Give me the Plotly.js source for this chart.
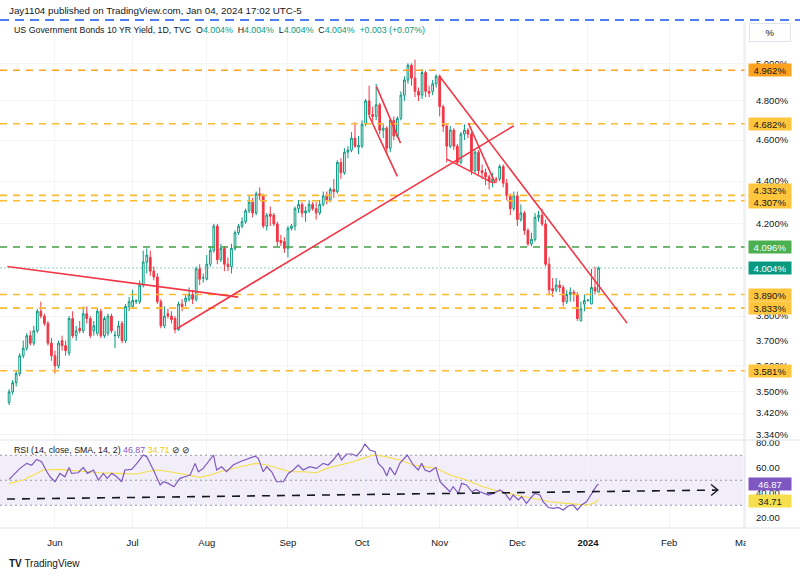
<!DOCTYPE html>
<html><head><meta charset="utf-8">
<script src="https://cdn.plot.ly/plotly-3.0.1.min.js"></script>
<style>html,body{margin:0;padding:0;background:#fff}#chart{width:800px;height:576px}</style>
</head><body><div id="chart"></div>
<script>
// ---------------- DATA ----------------
const startDate = '2023-05-15';
const skipDates = ['2023-12-25'];
const openP  = [3.46,3.50,3.535,3.57,3.64,3.67,3.72,3.69,3.74,3.82,3.80,3.77,3.69,3.64,3.60,3.70,3.68,3.65,3.79,3.72,3.75,3.74,3.81,3.79,3.74,3.73,3.82,3.72,3.73,3.80,3.72,3.72,3.77,3.70,3.84,3.84,3.86,3.86,3.93,4.03,4.05,3.99,3.965,3.86,3.76,3.81,3.80,3.79,3.745,3.85,3.86,3.87,3.89,3.87,4.00,3.96,3.955,4.02,4.08,4.19,4.04,4.09,4.02,4.01,4.09,4.16,4.19,4.21,4.26,4.30,4.25,4.34,4.33,4.19,4.245,4.24,4.20,4.125,4.12,4.09,4.18,4.19,4.27,4.29,4.25,4.26,4.29,4.27,4.25,4.29,4.33,4.31,4.36,4.35,4.49,4.44,4.54,4.55,4.61,4.565,4.57,4.68,4.80,4.73,4.72,4.78,4.65,4.66,4.56,4.70,4.62,4.71,4.83,4.91,4.99,4.92,4.85,4.83,4.95,4.85,4.85,4.89,4.93,4.77,4.67,4.57,4.65,4.57,4.49,4.63,4.65,4.63,4.45,4.54,4.45,4.44,4.42,4.40,4.41,4.41,4.47,4.39,4.33,4.27,4.33,4.22,4.25,4.17,4.11,4.13,4.23,4.24,4.20,4.02,3.915,3.91,3.93,3.92,3.86,3.89,3.90,3.89,3.78,3.85,3.865,3.85,3.92,3.90];
const highP  = [3.51,3.545,3.58,3.65,3.70,3.73,3.74,3.76,3.83,3.86,3.81,3.78,3.71,3.66,3.70,3.72,3.70,3.80,3.82,3.76,3.78,3.84,3.84,3.80,3.78,3.83,3.83,3.80,3.81,3.81,3.74,3.78,3.78,3.85,3.88,3.91,3.87,3.95,4.08,4.09,4.08,4.01,3.98,3.87,3.84,3.83,3.82,3.80,3.86,3.87,3.89,3.92,3.91,4.01,4.02,3.98,4.06,4.10,4.20,4.20,4.11,4.10,4.05,4.11,4.17,4.20,4.23,4.27,4.33,4.32,4.35,4.37,4.34,4.25,4.28,4.25,4.21,4.15,4.14,4.19,4.20,4.28,4.31,4.30,4.28,4.31,4.30,4.30,4.31,4.35,4.35,4.37,4.41,4.50,4.51,4.56,4.57,4.64,4.69,4.62,4.70,4.81,4.88,4.77,4.89,4.79,4.68,4.67,4.71,4.72,4.72,4.85,4.93,5.00,5.00,5.02,4.87,4.97,4.96,4.88,4.91,4.94,4.94,4.78,4.68,4.67,4.66,4.58,4.64,4.68,4.66,4.64,4.55,4.55,4.48,4.46,4.43,4.44,4.42,4.48,4.48,4.41,4.34,4.35,4.35,4.29,4.26,4.18,4.16,4.25,4.26,4.27,4.22,4.05,3.96,3.96,3.95,3.93,3.91,3.92,3.91,3.90,3.86,3.89,3.87,4.00,4.01,4.01];
const lowP   = [3.45,3.49,3.52,3.56,3.63,3.66,3.68,3.68,3.73,3.79,3.76,3.68,3.62,3.57,3.59,3.66,3.64,3.64,3.71,3.70,3.73,3.73,3.77,3.71,3.72,3.72,3.71,3.71,3.72,3.73,3.67,3.71,3.69,3.69,3.82,3.83,3.85,3.85,3.92,3.98,3.97,3.95,3.85,3.75,3.75,3.79,3.77,3.73,3.74,3.82,3.84,3.86,3.85,3.86,3.93,3.94,3.95,4.01,4.07,4.02,4.03,3.99,3.99,3.98,4.08,4.15,4.18,4.20,4.25,4.23,4.24,4.31,4.18,4.17,4.19,4.19,4.10,4.10,4.07,4.05,4.17,4.17,4.25,4.23,4.21,4.25,4.26,4.22,4.24,4.28,4.29,4.30,4.32,4.34,4.41,4.43,4.51,4.54,4.56,4.53,4.56,4.67,4.72,4.69,4.70,4.63,4.61,4.53,4.54,4.60,4.61,4.70,4.80,4.89,4.88,4.82,4.80,4.81,4.82,4.82,4.83,4.87,4.72,4.64,4.49,4.56,4.55,4.48,4.48,4.60,4.61,4.43,4.44,4.43,4.41,4.38,4.36,4.37,4.39,4.40,4.37,4.31,4.24,4.26,4.19,4.21,4.15,4.10,4.10,4.12,4.21,4.19,4.01,3.89,3.88,3.90,3.90,3.84,3.85,3.86,3.86,3.78,3.78,3.82,3.86,3.85,3.89,3.90];
const closeP = [3.50,3.535,3.57,3.64,3.67,3.72,3.69,3.74,3.82,3.80,3.77,3.69,3.64,3.60,3.69,3.68,3.66,3.79,3.72,3.74,3.74,3.81,3.79,3.72,3.76,3.82,3.72,3.79,3.80,3.74,3.722,3.76,3.70,3.84,3.86,3.865,3.865,3.93,4.03,4.06,3.99,3.965,3.86,3.76,3.80,3.80,3.785,3.745,3.85,3.84,3.875,3.89,3.87,4.00,3.955,3.962,4.02,4.08,4.19,4.04,4.09,4.02,4.01,4.09,4.16,4.19,4.21,4.26,4.30,4.25,4.34,4.33,4.19,4.24,4.235,4.20,4.12,4.115,4.09,4.18,4.19,4.27,4.29,4.25,4.26,4.29,4.27,4.25,4.29,4.33,4.31,4.36,4.35,4.49,4.44,4.54,4.55,4.61,4.57,4.575,4.68,4.80,4.73,4.72,4.78,4.65,4.66,4.56,4.70,4.62,4.71,4.83,4.91,4.99,4.92,4.85,4.83,4.95,4.85,4.84,4.89,4.93,4.77,4.67,4.57,4.65,4.57,4.49,4.63,4.65,4.63,4.45,4.54,4.45,4.44,4.42,4.40,4.41,4.405,4.47,4.39,4.33,4.27,4.33,4.22,4.25,4.17,4.11,4.13,4.23,4.24,4.20,4.02,3.91,3.905,3.93,3.92,3.86,3.89,3.90,3.89,3.79,3.83,3.865,3.866,3.92,3.905,4.004];

const rsiPos = [0,1.7,3.1,5.0,6.4,7.8,9.2,10.7,11.6,13.0,14.4,15.8,17.0,17.7,19.6,21.0,22.2,23.9,25.3,26.7,27.8,29.1,30.5,31.9,32.8,34.7,36.2,38.0,39.0,40.9,41.8,42.8,43.7,45.1,46.7,48.4,49.8,51.3,52.7,53.6,55.0,57.9,58.8,60.2,61.6,63.5,65.4,67.8,69.7,70.6,72.0,73.0,74.4,75.8,77.7,79.1,80.5,81.9,83.3,85.2,87.1,89.0,90.4,91.8,93.3,94.2,95.6,97.1,98.5,99.9,100.8,102.2,103.7,104.6,106.0,107.0,107.9,109.3,110.7,112.8,114.5,115.9,116.9,117.8,119.2,120.9,122.1,123.5,124.9,125.8,127.3,128.2,129.6,131.1,132.3,133.4,135.8,137.2,139.1,140.5,141.9,142.8,144.3,145.2,146.6,148.1,149.0,150.4,151.3,152.8,154.2,155.6,157.0,158.4,159.8,161.0,162.2,163.6,165.0,165.7,166.6,167.0];
const rsiVal = [50.7,55.5,59.5,63.5,62.0,66.7,64.8,56.8,52.8,48.8,55.5,52.8,60.3,55.5,56.0,60.3,55.5,58.2,50.2,55.5,51.5,55.5,52.8,48.8,58.2,58.7,63.5,70.2,68.8,58.2,52.8,46.2,48.8,47.5,44.8,51.5,52.8,54.2,63.5,56.8,59.5,70.2,58.2,60.8,56.8,62.2,64.8,67.5,69.3,67.5,56.8,60.8,56.8,48.8,48.8,55.5,58.2,62.2,58.2,60.8,59.5,63.5,62.2,66.2,71.5,66.2,71.0,71.0,69.3,74.2,79.0,74.2,72.8,63.5,59.5,53.4,60.3,54.2,63.5,70.2,62.2,58.2,63.5,58.2,56.8,60.3,48.8,44.8,40.8,44.8,39.5,47.5,46.2,40.8,42.6,40.8,38.2,39.5,42.2,39.5,34.2,38.2,34.2,36.8,31.5,36.8,39.5,38.2,32.8,28.2,27.5,28.2,26.2,29.4,30.2,26.2,30.2,32.8,39.5,42.2,46.2,46.87];
const smaPos = [0,4.0,6.9,9.7,13.9,16.3,21.0,25.8,30.5,36.1,39.0,41.8,45.6,50.3,54.1,56.9,60.7,65.4,70.1,73.0,76.7,79.6,83.3,87.1,90.0,93.7,97.5,100.3,103.2,106.0,110.7,114.5,118.3,121.1,124.9,129.6,134.3,139.1,143.5,148.5,153.2,157.9,163.6,166.0,167.0];
const smaVal = [47.5,50.2,54.2,58.2,58.7,58.2,56.8,56.0,55.5,55.0,56.8,58.2,56.8,54.2,52.3,54.2,57.6,60.8,63.5,62.2,59.5,56.8,56.8,56.0,59.5,62.2,64.8,67.5,70.2,69.3,66.2,62.2,60.8,59.5,54.2,50.2,44.8,40.8,38.2,35.5,32.8,31.5,30.2,32.0,34.71];

// Horizontal levels
const orangeLevels = [4.962,4.682,4.332,4.307,3.890,3.833,3.581];
const greenLevel = 4.096;
const lastPrice = 4.004;
const rsiLast = 46.87, smaLast = 34.71;

// Trendlines (bar position, yield)
const trendLines = [
  {x:[-0.5,64.9],  y:[4.010,3.879]},
  {x:[47.5,143.0], y:[3.748,4.672]},
  {x:[104.1,110.9],y:[4.875,4.585]},
  {x:[102.0,110.0],y:[4.722,4.422]},
  {x:[121.9,175.1],y:[4.931,3.771]},
  {x:[124.0,137.2],y:[4.506,4.390]},
  {x:[130.1,137.7],y:[4.686,4.390]}
];
const rsiTrend = {x:[-0.6,200.8], y:[34.96,42.16]};
const rsiArrow = {x:[198.9,200.8,198.9], y:[46.6,42.16,37.8]};

// Axis ticks
const monthTickDates = ['2023-06-01','2023-07-03','2023-08-01','2023-09-01','2023-10-02','2023-11-01','2023-12-01','2024-01-01','2024-02-01','2024-03-01'];
const monthTickText  = ['Jun','Jul','Aug','Sep','Oct','Nov','Dec','<b>2024</b>','Feb','Mar'];
const yTickVals = [5.0,4.8,4.6,4.4,4.2,3.8,3.7,3.6,3.5,3.42,3.34];
const rsiTickVals = [20,40,60,80];

// ---------------- BUILD ----------------
function fmt(d){return d.toISOString().slice(0,10);}
const dateIndex = {};
{
  let d = new Date(startDate+'T00:00:00Z'); let i = 0;
  const end = new Date('2024-03-05T00:00:00Z');
  while (d <= end) {
    const wd = d.getUTCDay(); const s = fmt(d);
    if (wd !== 0 && wd !== 6 && skipDates.indexOf(s) < 0) { dateIndex[s] = i; i++; }
    d.setUTCDate(d.getUTCDate()+1);
  }
}
const xIdx = closeP.map((_,i)=>i);
const tickPos = monthTickDates.map(s=>dateIndex[s]);

const XR = [-2.58, 208.5];
const PLOT_R = 745, TOP = 22, BOT = 528;
const px = p => p/PLOT_R;                 // pixel x -> paper
const py = q => (BOT-q)/(BOT-TOP);        // pixel y -> paper
const FONT = 'Liberation Sans, Arial, sans-serif';
const TXT = '#131722';

const traces = [];
orangeLevels.forEach((v,k)=>traces.push({type:'scatter',mode:'lines',x:[XR[0],XR[1]],y:[v,v],xaxis:'x',yaxis:'y',
  line:{color:k===0?'#FFA31F':'#FFBA2E',width:1.6,dash:'7px,6px'},hoverinfo:'skip'}));
traces.push({type:'scatter',mode:'lines',x:[XR[0],XR[1]],y:[greenLevel,greenLevel],line:{color:'#43A047',width:1.6,dash:'7px,6px'},hoverinfo:'skip'});
traces.push({type:'scatter',mode:'lines',x:[XR[0],XR[1]],y:[lastPrice,lastPrice],line:{color:'rgba(8,153,129,0.45)',width:1,dash:'2px,2px'},hoverinfo:'skip'});
traces.push({type:'candlestick',x:xIdx,open:openP,high:highP,low:lowP,close:closeP,xaxis:'x',yaxis:'y',
  whiskerwidth:0,
  increasing:{line:{color:'#089981',width:1},fillcolor:'rgba(255,255,255,0)'},
  decreasing:{line:{color:'#F23645',width:1},fillcolor:'#F23645'},hoverinfo:'skip'});
trendLines.forEach(t=>traces.push({type:'scatter',mode:'lines',x:t.x,y:t.y,line:{color:'#F23645',width:1.6},hoverinfo:'skip'}));
[70,50,30].forEach(v=>traces.push({type:'scatter',mode:'lines',x:[XR[0],XR[1]],y:[v,v],xaxis:'x',yaxis:'y2',line:{color:'#9598A1',width:1,dash:'2px,3px'},hoverinfo:'skip'}));
traces.push({type:'scatter',mode:'lines',x:smaPos,y:smaVal,xaxis:'x',yaxis:'y2',line:{color:'#F5DF4D',width:1.2},hoverinfo:'skip'});
traces.push({type:'scatter',mode:'lines',x:rsiPos,y:rsiVal,xaxis:'x',yaxis:'y2',line:{color:'#7E57C2',width:1.2},hoverinfo:'skip'});
traces.push({type:'scatter',mode:'lines',x:rsiTrend.x,y:rsiTrend.y,xaxis:'x',yaxis:'y2',line:{color:'#131722',width:1.6,dash:'8px,7px'},hoverinfo:'skip'});
traces.push({type:'scatter',mode:'lines',x:rsiArrow.x,y:rsiArrow.y,xaxis:'x',yaxis:'y2',line:{color:'#131722',width:1.4},hoverinfo:'skip'});

const rsiDom = (BOT-440)/(BOT-TOP);
const annotations = [];
function lab(text, yval, yref, bg, fg, yshift){
  annotations.push({xref:'paper',x:1,xanchor:'left',xshift:3,yref:yref,y:yval,yanchor:'middle',yshift:yshift||0,
    text:text,showarrow:false,bgcolor:bg,font:{family:FONT,size:9.5,color:fg},width:42,height:12,align:'center',borderpad:0});
}
const levelShift = [0,0,5.5,-1.6,0,0,0];
orangeLevels.forEach((v,k)=>lab(v.toFixed(3)+'%',Math.log10(v),'y',k===0?'#FFA31F':'#FFC53D',TXT,levelShift[k]));
lab(greenLevel.toFixed(3)+'%',Math.log10(greenLevel),'y','#4CAF50','#ffffff');
lab(lastPrice.toFixed(3)+'%',Math.log10(lastPrice),'y','#089981','#ffffff');
lab(rsiLast.toFixed(2),rsiLast,'y2','#7E57C2','#ffffff',0);
lab(smaLast.toFixed(2),smaLast,'y2','#F5DF4D',TXT,-1.5);

annotations.push({xref:'paper',yref:'paper',x:px(7),y:py(11),xanchor:'left',yanchor:'middle',showarrow:false,
  text:'Jay1104 published on TradingView.com, Jan 04, 2024 17:02 UTC-5',font:{family:FONT,size:9.8,color:TXT}});
const g = s=>'<span style="color:#089981">'+s+'</span>';
annotations.push({xref:'paper',yref:'paper',x:px(12),y:py(30),xanchor:'left',yanchor:'middle',showarrow:false,
  text:'US Government Bonds 10 YR Yield, 1D, TVC  O'+g('4.004%')+'  H'+g('4.004%')+'  L'+g('4.004%')+'  C'+g('4.004%')+'  '+g('+0.003 (+0.07%)'),
  font:{family:FONT,size:8.8,color:TXT}});
annotations.push({xref:'paper',yref:'paper',x:px(12),y:py(450),xanchor:'left',yanchor:'middle',showarrow:false,
  text:'RSI (14, close, SMA, 14, 2) <span style="color:#7E57C2">46.87</span> <span style="color:#F2C811">34.71</span> ⊘ ⊘',
  font:{family:FONT,size:8.8,color:TXT}});
annotations.push({xref:'paper',yref:'paper',x:px(770),y:py(32),xanchor:'center',yanchor:'middle',showarrow:false,
  text:'%',font:{family:FONT,size:9.5,color:TXT},bordercolor:'#E0E3EB',borderwidth:1,borderpad:3,width:34});
annotations.push({xref:'paper',yref:'paper',x:px(7),y:py(563),xanchor:'left',yanchor:'middle',showarrow:false,
  text:'<b>TV</b> TradingView',font:{family:FONT,size:10,color:TXT}});

const shapes = [
  {type:'rect',xref:'paper',yref:'y2',x0:0,x1:1,y0:30,y1:70,fillcolor:'rgba(126,87,194,0.10)',line:{width:0},layer:'below'},
  {type:'line',xref:'paper',yref:'paper',x0:0,x1:800/PLOT_R,y0:py(20),y1:py(20),line:{color:'#4F7DF3',width:2,dash:'9px,6px'}},
  {type:'line',xref:'paper',yref:'paper',x0:0,x1:800/PLOT_R,y0:py(440),y1:py(440),line:{color:'#E0E3EB',width:1}},
  {type:'line',xref:'paper',yref:'paper',x0:0,x1:800/PLOT_R,y0:py(528),y1:py(528),line:{color:'#E0E3EB',width:1}},
  {type:'line',xref:'paper',yref:'paper',x0:1,x1:1,y0:py(22),y1:py(528),line:{color:'#E0E3EB',width:1}},
  {type:'rect',xref:'paper',yref:'paper',x0:1.001,x1:800/PLOT_R,y0:py(556),y1:py(530),fillcolor:'#ffffff',line:{width:0},layer:'above'}
];

const layout = {
  width:800,height:576,margin:{l:0,r:55,t:TOP,b:576-BOT},paper_bgcolor:'#ffffff',plot_bgcolor:'#ffffff',
  showlegend:false,
  xaxis:{range:XR,anchor:'y2',tickvals:tickPos,ticktext:monthTickText,showgrid:true,gridcolor:'#F3F4F7',zeroline:false,
    ticks:'outside',ticklen:6,tickcolor:'rgba(0,0,0,0)',tickfont:{family:FONT,size:9.5,color:TXT},rangeslider:{visible:false},fixedrange:true},
  yaxis:{type:'log',domain:[rsiDom,1],range:[0.52136,0.71844],side:'right',anchor:'x',tickvals:yTickVals,
    ticktext:yTickVals.map(v=>v.toFixed(3)+'%'),showgrid:true,gridcolor:'#F3F4F7',zeroline:false,
    ticks:'outside',ticklen:8,tickcolor:'rgba(0,0,0,0)',tickfont:{family:FONT,size:9.5,color:TXT}},
  yaxis2:{domain:[0,rsiDom],range:[11.8,82.2],side:'right',anchor:'x',tickvals:rsiTickVals,ticktext:rsiTickVals.map(v=>v.toFixed(2)),
    showgrid:false,zeroline:false,ticks:'outside',ticklen:8,tickcolor:'rgba(0,0,0,0)',tickfont:{family:FONT,size:9.5,color:TXT}},
  annotations:annotations,shapes:shapes
};
Plotly.newPlot('chart',traces,layout,{displayModeBar:false,staticPlot:true});
</script></body></html>
